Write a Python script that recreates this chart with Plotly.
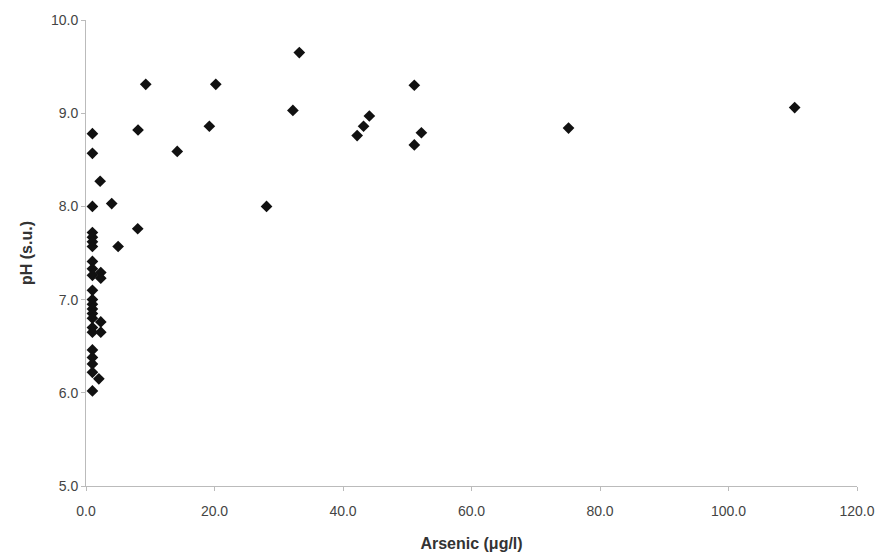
import plotly.graph_objects as go

arsenic = [14.2, 19.2, 20.2, 33.2, 32.2, 28.1, 42.2, 43.2, 44.1, 51.1, 52.2, 51.1, 75.1, 110.3,
           9.3, 8.1, 8.05,
           1.0, 1.0, 1.0, 2.2, 4.0, 5.0,
           1.0, 1.0, 1.0, 1.0, 1.0, 1.0, 1.0, 1.0, 1.0, 1.0, 1.0, 1.0, 1.0, 1.0, 1.0,
           1.0, 1.0, 1.0, 1.0, 1.0,
           2.3, 2.3, 2.3, 2.3, 2.0]
ph = [8.59, 8.86, 9.31, 9.65, 9.03, 8.0, 8.76, 8.86, 8.97, 9.30, 8.79, 8.66, 8.84, 9.06,
      9.31, 8.82, 7.76,
      8.78, 8.57, 8.0, 8.27, 8.03, 7.57,
      7.72, 7.67, 7.62, 7.57, 7.41, 7.33, 7.26, 7.1, 7.0, 6.95, 6.9, 6.85, 6.8, 6.7, 6.65,
      6.46, 6.38, 6.31, 6.22, 6.02,
      7.29, 7.23, 6.76, 6.65, 6.15]

x_ticks = [0, 20, 40, 60, 80, 100, 120]
y_ticks = [5, 6, 7, 8, 9, 10]

fig = go.Figure()
fig.add_trace(go.Scatter(
    x=arsenic, y=ph, mode="markers",
    marker=dict(symbol="diamond", size=9, color="#111111", line=dict(width=0)),
    showlegend=False,
))

axis_common = dict(
    showgrid=False, zeroline=False, showline=True, linecolor="#bbbbbb", linewidth=1,
    ticks="outside", ticklen=4, tickcolor="#bbbbbb",
    tickfont=dict(family="Liberation Sans, Arial", size=14, color="#444444"),
    tickformat=".1f", automargin=False,
)

fig.update_layout(
    width=886, height=557,
    margin=dict(l=86, r=29, t=20, b=71),
    paper_bgcolor="white", plot_bgcolor="white",
    xaxis=dict(range=[0, 120], tickvals=x_ticks, ticklabelstandoff=8,
               title=dict(text="Arsenic (μg/l)", standoff=20,
                          font=dict(family="Liberation Sans, Arial", size=16, color="#333333")),
               **axis_common),
    yaxis=dict(range=[5, 10], tickvals=y_ticks,
               title=dict(text="pH (s.u.)", standoff=14,
                          font=dict(family="Liberation Sans, Arial", size=16, color="#333333")),
               **axis_common),
)
fig.update_xaxes(title_font_weight="bold")
fig.update_yaxes(title_font_weight="bold")

fig.write_html("out.html")
